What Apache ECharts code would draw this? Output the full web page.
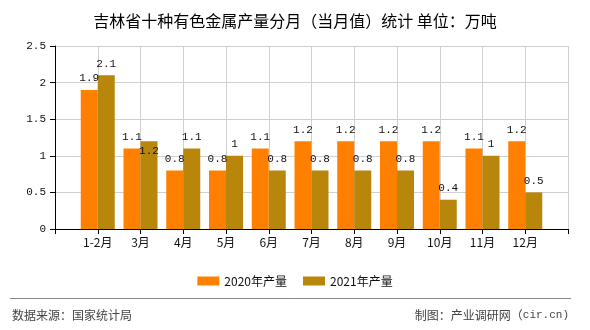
<!DOCTYPE html>
<html>
<head>
<meta charset="utf-8">
<script src="https://cdn.jsdelivr.net/npm/echarts@6/dist/echarts.min.js"></script>
<style>html,body{margin:0;padding:0;background:#fff;}#c{width:590px;height:330px;}</style>
</head>
<body>
<div id="c"></div>
<script>
var categories = ['1-2月','3月','4月','5月','6月','7月','8月','9月','10月','11月','12月'];
var values2020 = [1.9,1.1,0.8,0.8,1.1,1.2,1.2,1.2,1.2,1.1,1.2];
var values2021 = [2.1,1.2,1.1,1.0,0.8,0.8,0.8,0.8,0.4,1.0,0.5];
var seriesNames = ['2020年产量','2021年产量'];
var yTicks = [0,0.5,1,1.5,2,2.5];

var mono = '"Liberation Mono","DejaVu Sans Mono",monospace';
var cjk = '"Noto Sans CJK SC","Noto Sans",sans-serif';
// pad one empty slot at each end so bars sit on the tick lines
var axisCats = [''].concat(categories, ['']);
function pad(arr){ return ['-'].concat(arr, ['-']); }

var d2021 = pad(values2021).map(function(v, i){
  if (i === 2) return {value: v, label: {position: 'insideTop', distance: 4}};
  return v;
});

var chart = echarts.init(document.getElementById('c'), null, {renderer: 'canvas'});
chart.setOption({
  animation: false,
  backgroundColor: '#fff',
  title: {
    text: '吉林省十种有色金属产量分月（当月值）统计 单位：万吨',
    left: 'center', top: 8,
    textStyle: {fontFamily: cjk, fontSize: 16, fontWeight: 'normal', color: '#000'}
  },
  legend: {
    data: seriesNames,
    top: 270, left: 'center',
    itemWidth: 22, itemHeight: 9, itemGap: 16,
    icon: 'rect',
    textStyle: {fontFamily: cjk, fontSize: 12, color: '#111'}
  },
  grid: {left: 55, right: 22, top: 46, bottom: 101, containLabel: false},
  xAxis: {
    type: 'category',
    data: axisCats,
    boundaryGap: false,
    axisLine: {lineStyle: {color: '#000', width: 1}},
    axisTick: {show: true, interval: 0, length: 5, lineStyle: {color: '#000'}},
    axisLabel: {interval: 0, margin: 7, fontFamily: cjk, fontSize: 12, color: '#111'},
    splitLine: {show: true, interval: 0, lineStyle: {color: '#d0d0d0', width: 1}}
  },
  yAxis: {
    type: 'value',
    min: yTicks[0], max: yTicks[yTicks.length-1], interval: 0.5,
    axisLine: {show: true, lineStyle: {color: '#000', width: 1}},
    axisTick: {show: true, length: 5, lineStyle: {color: '#000'}},
    axisLabel: {margin: 9, fontFamily: mono, fontSize: 11, color: '#111'},
    splitLine: {show: true, lineStyle: {color: '#d0d0d0', width: 1}}
  },
  series: [
    {
      name: seriesNames[0], type: 'bar', data: pad(values2020),
      barWidth: 17, barGap: '0%',
      itemStyle: {color: '#ff8000'},
      label: {show: true, position: 'top', distance: 6, fontFamily: mono, fontSize: 11, color: '#111'}
    },
    {
      name: seriesNames[1], type: 'bar', data: d2021,
      barWidth: 17, barGap: '0%',
      itemStyle: {color: '#b8860b'},
      label: {show: true, position: 'top', distance: 6, fontFamily: mono, fontSize: 11, color: '#111'}
    }
  ],
  graphic: [
    {type: 'line', shape: {x1: 10, y1: 298.5, x2: 571, y2: 298.5}, style: {stroke: '#888', lineWidth: 1}},
    {type: 'text', left: 12, top: 309, style: {text: '数据来源：国家统计局', font: '12px "Noto Sans CJK SC", sans-serif', fill: '#444'}},
    {type: 'text', right: 21, top: 309, style: {
      text: '{a|制图：产业调研网（}{b|cir.cn)}',
      rich: {
        a: {fontFamily: cjk, fontSize: 12, fill: '#444', color: '#444'},
        b: {fontFamily: mono, fontSize: 11, fill: '#444', color: '#444'}
      }
    }}
  ]
});
</script>
</body>
</html>
